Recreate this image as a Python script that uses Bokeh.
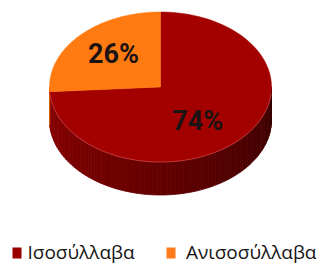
import numpy as np
from bokeh.plotting import figure
from bokeh.models import Range1d
from bokeh.core.properties import value
from bokeh.embed import file_html
from bokeh.resources import INLINE

# ---- data ----
categories = ["Ισοσύλλαβα", "Ανισοσύλλαβα"]
values = [74, 26]
labels = ["74%", "26%"]
colors = ["#A30000", "#FF7A10"]
legend_colors = ["#990000", "#FF7A1A"]

# ---- geometry (page pixel space) ----
cx, cy, rx, ry, depth = 160.0, 86.5, 111.0, 75.0, 33.0
start_deg = 90.0  # first slice starts at 12 o'clock, going clockwise

W, H = 321, 266
p = figure(width=W, height=H, x_range=Range1d(0, W), y_range=Range1d(H, 0),
           output_backend="svg", toolbar_location=None, min_border=0)
p.axis.visible = False
p.grid.visible = False
p.outline_line_color = None
p.background_fill_color = "white"
p.border_fill_color = "white"

total = float(sum(values))
angles = []
a = start_deg
for v in values:
    span = 360.0 * v / total
    angles.append((a - span, a))
    a -= span

def pt(theta_deg, dy=0.0):
    t = np.radians(theta_deg)
    return cx + rx * np.cos(t), cy - ry * np.sin(t) + dy

def norm_front(lo, hi):
    res = []
    for k in range(-2, 3):
        flo, fhi = 180 + 360 * k, 360 + 360 * k
        l, h = max(lo, flo), min(hi, fhi)
        if h > l:
            res.append((l, h))
    return res

def shade(hexc, f):
    hexc = hexc.lstrip("#")
    r, g, b = int(hexc[0:2], 16), int(hexc[2:4], 16), int(hexc[4:6], 16)
    return "#%02x%02x%02x" % (int(r * f), int(g * f), int(b * f))

# side walls
xs_list, ys_list, cols = [], [], []
for (lo, hi), col in zip(angles, colors):
    for (l, h) in norm_front(lo, hi):
        n = max(2, int((h - l) / 2) + 1)
        th = np.linspace(l, h, n)
        for i in range(n - 1):
            t0, t1 = th[i], th[i + 1]
            tm = ((t0 + t1) / 2) % 360
            frac = (tm - 180) / 180.0
            f = 0.86 - 0.50 * frac
            x0, y0 = pt(t0)
            x1, y1 = pt(t1)
            xs_list.append([x0, x1, x1, x0])
            ys_list.append([y0, y1, y1 + depth, y0 + depth])
            cols.append(shade(col, f))
p.patches(xs_list, ys_list, fill_color=cols, line_color=cols, line_width=0.8)

# top face
for (lo, hi), col in zip(angles, colors):
    th = np.linspace(lo, hi, 120)
    xs = [cx] + [pt(t)[0] for t in th]
    ys = [cy] + [pt(t)[1] for t in th]
    p.patch(xs, ys, fill_color=col, line_color=col, line_width=0.5)

# rim highlight on front edge
th = np.linspace(185, 355, 120)
p.line([pt(t)[0] for t in th], [pt(t)[1] for t in th], line_color="#D05050",
       line_width=1.0, line_alpha=0.7)

# labels
label_f = [(0.46, 0.66), (0.58, 0.64)]
for (lo, hi), lab, (fx, fy) in zip(angles, labels, label_f):
    m = np.radians((lo + hi) / 2)
    lx = cx + rx * fx * np.cos(m)
    ly = cy - ry * fy * np.sin(m)
    p.text(x=[lx], y=[ly], text=[lab], text_align="center", text_baseline="middle",
           text_font=value("Roboto"), text_font_style="bold",
           text_font_size="27px", text_color="#1c1414")

# legend
leg_sq_x = [16.5, 170.5]
leg_tx_x = [27.0, 185.5]
for cat, lc, sx, tx in zip(categories, legend_colors, leg_sq_x, leg_tx_x):
    p.rect(x=[sx], y=[252.5], width=9, height=11, fill_color=lc, line_color=None)
    p.text(x=[tx], y=[251], text=[cat], text_align="left", text_baseline="middle",
           text_font=value("Open Sans"), text_font_size="19px",
           text_color="#141414")

open("out.html", "w").write(file_html(p, INLINE))
